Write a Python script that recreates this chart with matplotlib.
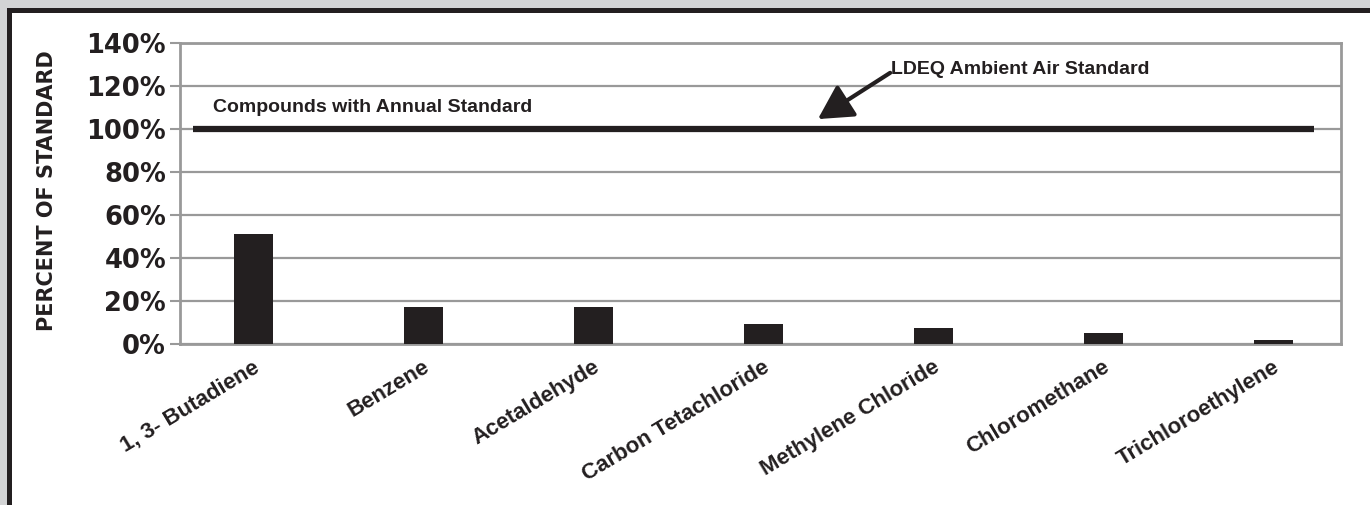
import matplotlib.pyplot as plt
from matplotlib.patches import Rectangle
import numpy as np

# data
compounds = ["1, 3- Butadiene", "Benzene", "Acetaldehyde", "Carbon Tetachloride",
             "Methylene Chloride", "Chloromethane", "Trichloroethylene"]
percent_of_standard = [51, 17.3, 17.3, 9.4, 7.5, 5.2, 2.0]
standard_level = 100
y_ticks = [0, 20, 40, 60, 80, 100, 120, 140]
y_tick_labels = ["0%", "20%", "40%", "60%", "80%", "100%", "120%", "140%"]

DARK = "#231f20"
GRID = "#999999"
ARIAL = ["Liberation Sans", "DejaVu Sans"]

W, H = 1370, 505
fig = plt.figure(figsize=(W / 100, H / 100), dpi=100)
fig.patch.set_facecolor("white")

# outer frame: light gray band + black border on top and left
fig.patches.append(Rectangle((0, 0), 1, 1, transform=fig.transFigure,
                             facecolor="#d3d4d5", edgecolor="none", zorder=-3))
fig.patches.append(Rectangle((7 / W, 0), 1 - 7 / W, 1 - 8 / H, transform=fig.transFigure,
                             facecolor=DARK, edgecolor="none", zorder=-2))
fig.patches.append(Rectangle((12 / W, 0), 1 - 12 / W, 1 - 13 / H, transform=fig.transFigure,
                             facecolor="white", edgecolor="none", zorder=-1))

ax = fig.add_axes([180 / W, 161 / H, 1160.7 / W, 301.3 / H])
x = np.arange(len(compounds))
ax.bar(x, percent_of_standard, width=0.225, color=DARK, zorder=3)

ax.set_ylim(0, 140)
ax.set_xlim(-0.432, 6.395)
ax.set_yticks(y_ticks)
ax.set_yticklabels(y_tick_labels, fontsize=18.5, fontweight="bold", color=DARK)
ax.tick_params(axis="y", length=7, width=1.5, color=GRID, pad=3)
ax.tick_params(axis="x", length=0)
ax.set_xticks(x)
ax.set_xticklabels([])
ax.grid(axis="y", color=GRID, linewidth=1.6, zorder=1)
for s in ax.spines.values():
    s.set_color(GRID)
    s.set_linewidth(2)

# x labels, rotated and anchored at their top-right end
for xi, name in zip(x, compounds):
    ax.annotate(name, xy=(xi, 0), xycoords="data", xytext=(-1, -9),
                textcoords="offset points", rotation=31, rotation_mode="anchor",
                ha="right", va="top", fontsize=16, fontweight="bold",
                color=DARK, family=ARIAL)

# y axis title
fig.text(47 / W, 1 - 191 / H, "PERCENT OF STANDARD", rotation=90,
         ha="center", va="center", fontsize=15, fontweight="bold",
         color=DARK, family="DejaVu Sans")

# annual standard line
ax.plot([-0.356, 6.238], [standard_level, standard_level], color=DARK,
        linewidth=4.5, solid_capstyle="butt", zorder=4)
ax.text(-0.238, 109.7, "Compounds with Annual Standard", fontsize=14,
        fontweight="bold", color=DARK, ha="left", va="center", family=ARIAL)

ax.text(3.75, 127.5, "LDEQ Ambient Air Standard", fontsize=14, fontweight="bold",
        color=DARK, ha="left", va="center", family=ARIAL)
ax.annotate("", xy=(3.32, 104.5), xytext=(3.745, 126.0),
            arrowprops=dict(arrowstyle="-|>,head_length=0.55,head_width=0.3",
                            color=DARK, lw=3, mutation_scale=38,
                            shrinkA=0, shrinkB=0))

fig.savefig("out.png", dpi=100)
